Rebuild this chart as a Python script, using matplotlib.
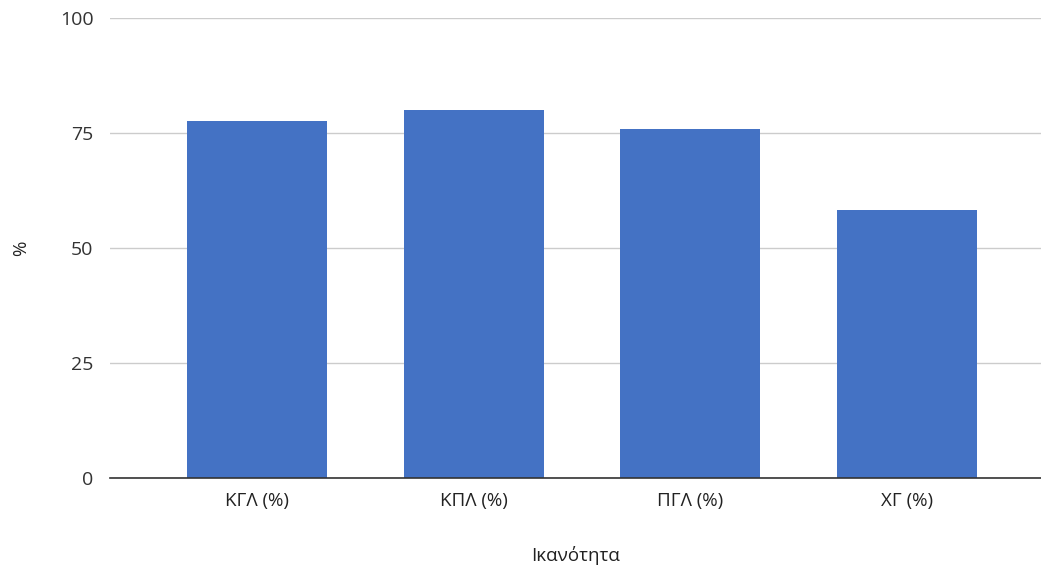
import matplotlib.pyplot as plt
import numpy as np

categories = ['ΚΓΛ (%)', 'ΚΠΛ (%)', 'ΠΓΛ (%)', 'ΧΓ (%)']
values = [77.5, 79.9, 75.9, 58.2]
yticks = [0, 25, 50, 75, 100]

plt.rcParams['font.family'] = ['Open Sans', 'DejaVu Sans']

fig = plt.figure(figsize=(10.41, 5.68), dpi=100)
ax = fig.add_axes([0.1057, 0.1585, 0.8943, 0.8099])

x = np.arange(len(categories))
ax.bar(x, values, width=0.646, color='#4472C4', zorder=3)

ax.set_xlim(-0.68, 3.62)
ax.set_ylim(0, 100)
ax.set_yticks(yticks)
ax.set_xticks(x)
ax.set_xticklabels(categories, fontsize=13.5, color='#222222')
ax.tick_params(axis='y', length=0, pad=12, labelsize=14, labelcolor='#333333')
ax.tick_params(axis='x', length=0, pad=10)
ax.grid(axis='y', color='#cccccc', linewidth=1, zorder=0)

for s in ['top', 'right', 'left']:
    ax.spines[s].set_visible(False)
ax.spines['bottom'].set_color('#333333')
ax.spines['bottom'].set_linewidth(1.2)
ax.spines['bottom'].set_zorder(4)

ax.set_ylabel('%', fontsize=13.5, color='#222222', labelpad=21)
ax.set_xlabel('Ικανότητα', fontsize=13.5, color='#222222', labelpad=26)

fig.savefig('out.png', dpi=100)
